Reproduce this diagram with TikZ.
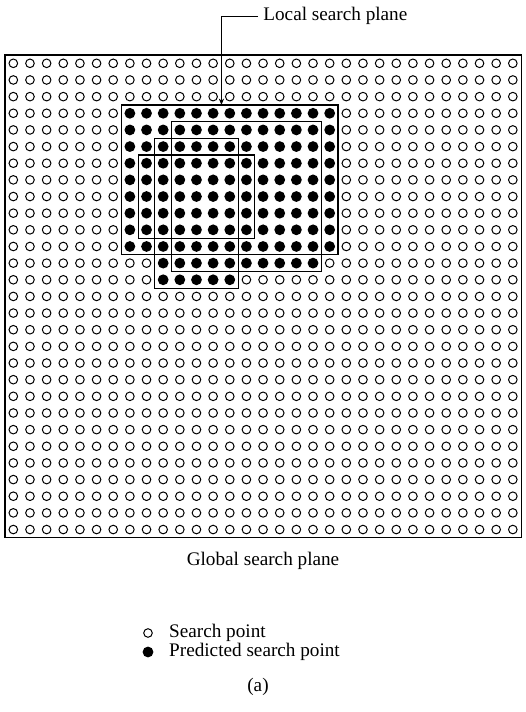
\documentclass[tikz,border=0pt]{standalone}
\usepackage{fontspec}
\setmainfont{Liberation Serif}
\usetikzlibrary{arrows.meta,positioning}

\begin{document}
\begin{tikzpicture}[x=0.5pt,y=-0.5pt,>={Stealth[length=3.2pt,width=2.6pt]},
  txt/.style={font=\fontsize{9.6}{11.5}\selectfont,inner sep=0pt},
  opendot/.style={circle,draw,line width=0.5pt,minimum size=4.3pt,inner sep=0pt},
  fulldot/.style={circle,fill,minimum size=5.4pt,inner sep=0pt},
  plane/.style={line width=0.6pt}]
  \useasboundingbox (0,0) rectangle (525,712);

  % search points of the global plane
  \begin{scope}[shift={(5,55)},x=8.325pt,y=-8.325pt]
    \foreach \c in {1,...,31}
      \foreach \r in {1,...,29}{
        \pgfmathtruncatemacro\hit{((\c>=8)&&(\c<=20)&&(\r>=4)&&(\r<=12))
          ||((\c>=11)&&(\c<=19)&&(\r>=5)&&(\r<=13))
          ||((\c>=10)&&(\c<=14)&&(\r>=6)&&(\r<=14))}
        \ifnum\hit=1
          \fill (\c-0.5,\r-0.5) circle (2.7pt);
        \else
          \draw[line width=0.5pt] (\c-0.5,\r-0.5) circle (2.15pt);
        \fi
      }

    % global search plane
    \draw[plane] (0,0) rectangle (31,29);

    % local search planes
    \draw[plane] (7,3) rectangle (20,12);
    \draw[plane] (10,4) rectangle (19,13);
    \draw[plane] (9,5) rectangle (14,14);
    \draw[plane] (8,6) rectangle (15,11);
    \coordinate (tip) at (13,3);
  \end{scope}

  % labels
  \node[txt,anchor=west,inner xsep=2.5pt] (lbl) at (258,16) {Local search plane};
  \draw[->,line width=0.5pt] (lbl.west) -| (tip);
  \node[txt] (glob) at (263,561) {Global search plane};

  % legend
  \node[opendot] (keyopen) at (148,633) {};
  \node[txt,right=8pt of keyopen] (txtopen) {Search point};
  \node[fulldot] (keyfull) at (148,652) {};
  \node[txt,anchor=west] (txtfull) at (txtopen.west |- keyfull) {Predicted search point};

  \node[txt] (cap) at (258,687) {(a)};
\end{tikzpicture}
\end{document}
